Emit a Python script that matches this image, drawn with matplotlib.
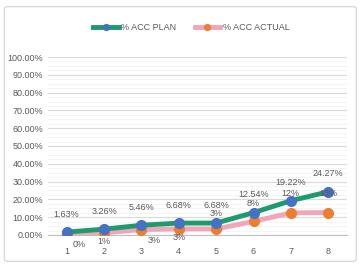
import matplotlib.pyplot as plt
from matplotlib.patches import FancyBboxPatch
from matplotlib.ticker import MultipleLocator, FuncFormatter

# data
points = [1, 2, 3, 4, 5, 6, 7, 8]
acc_plan = [1.63, 3.26, 5.46, 6.68, 6.68, 12.54, 19.22, 24.27]
acc_actual = [0.3, 1.2, 3.0, 3.4, 3.4, 7.6, 12.4, 12.6]

# label offsets (points) roughly where Excel put them
plan_offsets = [(0, 13)] * 8
actual_offsets = [(9, -7), (0, -6), (9, -8), (0, -6), (0, 11), (0, 13), (0, 14), (0, 14)]

grey = "#595959"
plt.rcParams['font.family'] = ['Liberation Sans', 'DejaVu Sans']

fig = plt.figure(figsize=(3.61, 2.64), dpi=100)
fig.patches.append(FancyBboxPatch((0.012, 0.01), 0.975, 0.965, boxstyle="round,pad=0,rounding_size=0.01",
                                  transform=fig.transFigure, fc="none", ec="#d9d9d9", lw=1.0))
ax = fig.add_axes([0.133, 0.11, 0.828, 0.674])

ax.plot(points, acc_actual, color="#EFA6BA", lw=3.5, marker="o", ms=7,
        mfc="#ED7D31", mec="#ED7D31", label="% ACC ACTUAL", zorder=3)
ax.plot(points, acc_plan, color="#1E9B6C", lw=3.5, marker="o", ms=7,
        mfc="#4472C4", mec="#4472C4", label="% ACC PLAN", zorder=4)

for x, y, off in zip(points, acc_plan, plan_offsets):
    ax.annotate(f"{y:.2f}%", (x, y), xytext=off, textcoords="offset points",
                ha="center", va="center", fontsize=6.5, color=grey, zorder=6)
for x, y, off in zip(points, acc_actual, actual_offsets):
    ax.annotate(f"{y:.0f}%", (x, y), xytext=off, textcoords="offset points",
                ha="center", va="center", fontsize=6.5, color=grey, zorder=5)

ax.set_xlim(0.5, 8.5)
ax.set_ylim(0, 100)
ax.set_xticks(points)
ax.yaxis.set_major_locator(MultipleLocator(10))
ax.yaxis.set_minor_locator(MultipleLocator(2.5))
ax.yaxis.set_major_formatter(FuncFormatter(lambda v, _: f"{v:.2f}%"))
ax.grid(axis="y", which="major", color="#d9d9d9", lw=0.8)
ax.grid(axis="y", which="minor", color="#f2f2f2", lw=0.6)
ax.set_axisbelow(True)
for s in ["top", "right", "left"]:
    ax.spines[s].set_visible(False)
ax.spines["bottom"].set_color("#bfbfbf")
ax.tick_params(axis="both", which="both", length=0, labelsize=6.5, colors=grey)
ax.tick_params(axis="x", pad=9)

h, l = ax.get_legend_handles_labels()
fig.legend(h[::-1], l[::-1], loc="center", bbox_to_anchor=(0.53, 0.895), ncol=2, frameon=False,
           fontsize=6.5, labelcolor=grey, handlelength=2.8, handletextpad=0.3, columnspacing=2.0,
           markerscale=0.6)

fig.savefig("out.png", dpi=100)
